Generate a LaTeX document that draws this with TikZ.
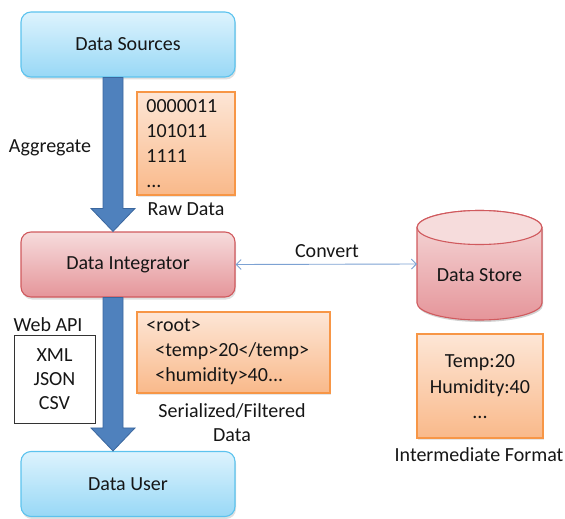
\documentclass[tikz,border=0pt]{standalone}
\usepackage{fontspec}
\setmainfont{Carlito}
\usetikzlibrary{calc,shadows,arrows.meta}

\definecolor{bluetop}{HTML}{DDF3FD}
\definecolor{bluebot}{HTML}{98D8F6}
\definecolor{blueedge}{HTML}{5CC3EE}
\definecolor{redtop}{HTML}{F6DCDC}
\definecolor{redbot}{HTML}{E5959A}
\definecolor{rededge}{HTML}{D05A5E}
\definecolor{ortop}{HTML}{FDE6D6}
\definecolor{orbot}{HTML}{F9B98A}
\definecolor{oredge}{HTML}{F79646}
\definecolor{arrowfill}{HTML}{4F81BD}
\definecolor{arrowedge}{HTML}{3B679E}
\definecolor{linkblue}{HTML}{7DA2D3}
\definecolor{txt}{HTML}{161616}

\tikzset{
  every node/.style={text=txt, font=\fontsize{20}{22}\selectfont},
  procbox/.style={rounded corners=10pt, minimum width=214pt, minimum height=65pt,
    line width=1.1pt, drop shadow={shadow xshift=1pt, shadow yshift=-2.5pt, opacity=0.25}},
  bluebox/.style={procbox, draw=blueedge, top color=bluetop, bottom color=bluebot},
  redbox/.style={procbox, draw=rededge, top color=redtop, bottom color=redbot},
  databox/.style={draw=oredge, line width=1.6pt, top color=ortop, bottom color=orbot,
    drop shadow={shadow xshift=1pt, shadow yshift=-2pt, opacity=0.2}},
  flowarrow/.style={fill=arrowfill, draw=arrowedge, line width=0.8pt, line join=miter},
  linkline/.style={draw=linkblue, line width=0.9pt, {Straight Barb[length=5pt,width=10pt]}-{Straight Barb[length=5pt,width=10pt]}},
  plain/.style={inner sep=0pt}
}

\begin{document}
\begin{tikzpicture}[x=1pt,y=-1pt]
\useasboundingbox (0,0) rectangle (565,519);

% main process boxes
\node[bluebox] (src) at (128,44.5) {Data Sources};
\node[redbox] (integ) at (128,264.5) {Data Integrator};
\node[bluebox] (user) at (128,484) {Data User};

% wide flow arrows between the process boxes
\foreach \a/\b in {src/integ, integ/user} {
  \coordinate (s) at ($(\a.south)+(-15,0)$);
  \coordinate (e) at ($(\b.north)+(-15,0)$);
  \draw[flowarrow] ($(s)+(-10,0)$) -- ($(e)+(-10,-23)$) -- ($(e)+(-22,-23)$) -- (e)
    -- ($(e)+(22,-23)$) -- ($(e)+(10,-23)$) -- ($(s)+(10,0)$) -- cycle;
}

% raw data sample
\node[databox, minimum width=98pt, minimum height=103pt] (raw) at (186,143.5) {};
\node[plain, anchor=north west, align=left, font=\fontsize{20}{25}\selectfont] (rawtxt) at ($(raw.north west)+(10,8)$) {0000011\\101011\\1111\\...};
\node[plain] (rawlbl) at (186,209) {Raw Data};
\node[plain] (agg) at (50,148) {Aggregate};

% web api formats
\node[plain] (api) at (48,325) {Web API};
\node[draw=black!80, line width=0.8pt, minimum width=81pt, minimum height=88pt, align=center,
  font=\fontsize{20}{24}\selectfont, fill=white] (fmt) at (54.5,379) {XML\\JSON\\CSV};

% serialized data sample
\node[databox, minimum width=193pt, minimum height=81pt] (ser) at (233.5,352.5) {};
\node[plain, anchor=north west, align=left, font=\fontsize{20}{25}\selectfont] (sertxt) at ($(ser.north west)+(10,7)$)
  {<root>\\\hspace*{9pt}<temp>20</temp>\\\hspace*{9pt}<humidity>40...};
\node[plain, align=center, font=\fontsize{20}{24}\selectfont] (serlbl) at (232,423) {Serialized/Filtered\\Data};

% data store cylinder
\coordinate (storeW) at (417,264);
\fill[black, opacity=0.18] (418,229) -- (418,305) arc[start angle=180, end angle=360, x radius=62.5pt, y radius=17pt] -- (543,229) -- cycle;
\path[shade, top color=redtop, bottom color=redbot, draw=rededge, line width=1.1pt]
  (417,227.5) -- (417,303) arc[start angle=180, end angle=360, x radius=62.5pt, y radius=17pt]
  -- (542,227.5) arc[start angle=0, end angle=180, x radius=62.5pt, y radius=17pt] -- cycle;
\draw[draw=rededge, line width=1.1pt, fill=redtop] (479.5,227.5) ellipse[x radius=62.5pt, y radius=17pt];
\node[plain] (store) at (479.5,275) {Data Store};

% convert link
\draw[linkline] (integ.east) -- (storeW);
\node[plain] (conv) at (327,251) {Convert};

% intermediate format sample
\node[databox, minimum width=126pt, minimum height=104pt] (inter) at (480,386) {};
\node[plain, align=center, font=\fontsize{20}{25.5}\selectfont] (intertxt) at (480,387) {Temp:20\\Humidity:40\\...};
\node[plain] (interlbl) at (479,455) {Intermediate Format};
\end{tikzpicture}
\end{document}
